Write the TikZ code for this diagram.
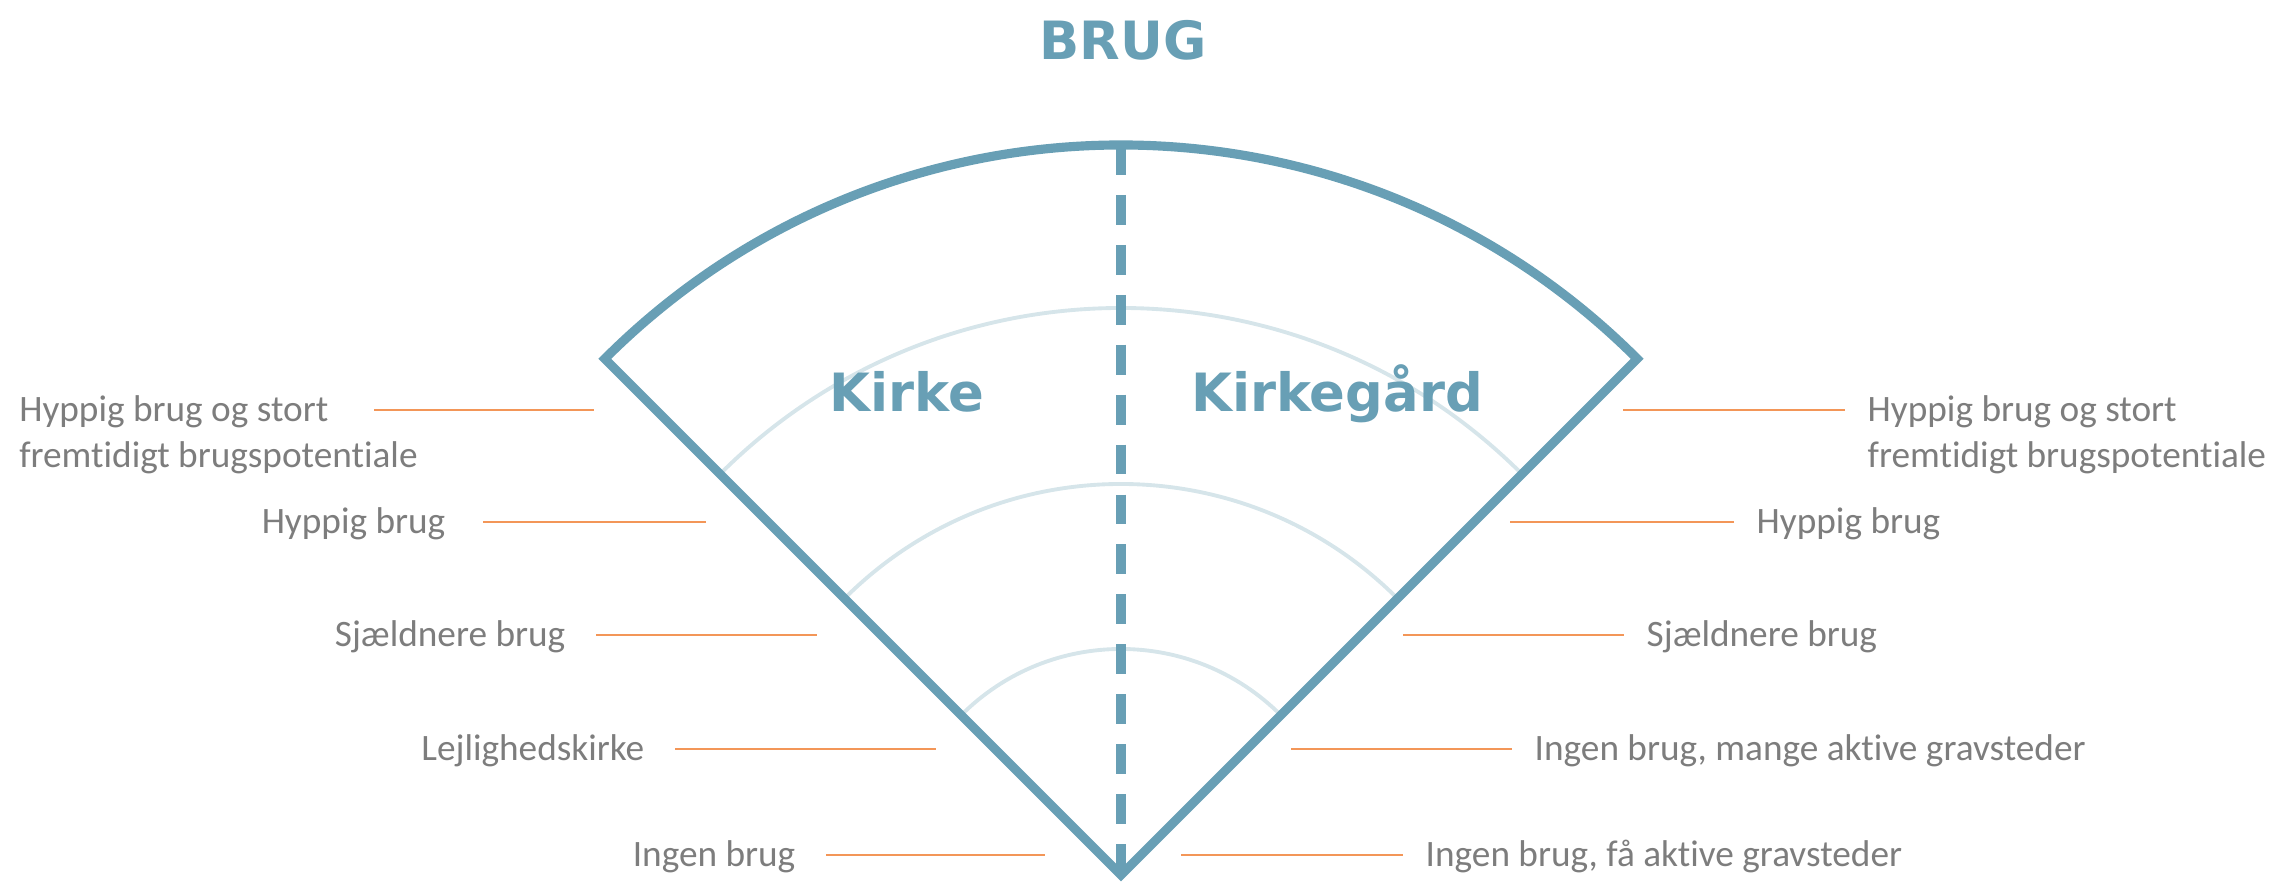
\documentclass[tikz,border=0pt]{standalone}
\usepackage{fontspec}
\setmainfont{Carlito}[Ligatures=NoCommon]
\newfontfamily\headfont{DejaVu Sans}
\usetikzlibrary{positioning}
\definecolor{Steel}{RGB}{104,159,181}
\definecolor{Mist}{RGB}{214,229,234}
\definecolor{Tangerine}{RGB}{243,150,88}
\definecolor{Slate}{RGB}{125,125,125}

\begin{document}
\begin{tikzpicture}[x=0.01cm,y=0.01cm,node distance=0.3cm,
 rim/.style={line width=2.6pt,Steel,line join=miter},
 ring/.style={line width=1.1pt,Mist},
 mid/.style={line width=2.8pt,Steel,dash pattern=on 8.5pt off 5.7pt},
 tick/.style={line width=0.7pt,Tangerine},
 lab/.style={inner sep=0pt,text=Slate,font=\fontsize{10.6}{12}\selectfont,text height=6.8pt,text depth=0pt},
 head/.style={inner sep=0pt,text=Steel,font=\headfont\bfseries\fontsize{15}{18}\selectfont,text height=10.9pt,text depth=0pt}]
\useasboundingbox (0,0) rectangle (2272,886);
\coordinate (c) at (1121,11);
\coordinate (top) at (1121,741);
% usage rings
\draw[ring] (c) ++(135:567) arc[start angle=135,end angle=45,radius=567];
\draw[ring] (c) ++(135:391) arc[start angle=135,end angle=45,radius=391];
\draw[ring] (c) ++(135:226) arc[start angle=135,end angle=45,radius=226];
% fan
\draw[rim] (c) -- ++(135:730) arc[start angle=135,end angle=45,radius=730] -- cycle;
\draw[mid] (top) -- (c);
\node[head] (brug) at (1123,846) {BRUG};
\node[head] (kirke) at (907,494) {Kirke};
\node[head] (kgard) at (1337,494) {Kirkegård};
% left side
\coordinate (l1a) at (374,476); \coordinate (l1b) at (594,476);
\coordinate (l2a) at (483,364); \coordinate (l2b) at (706,364);
\coordinate (l3a) at (596,251); \coordinate (l3b) at (817,251);
\coordinate (l4a) at (675,137); \coordinate (l4b) at (936,137);
\coordinate (l5a) at (826,31);  \coordinate (l5b) at (1045,31);
\node[lab,left=0.45cm of l1a] (l1t) {Hyppig brug og stort};
\node[lab,below=0.2cm of l1t.south west,anchor=north west] (l1u) {fremtidigt brugspotentiale};
\node[lab,left=0.37cm of l2a] (l2) {Hyppig brug};
\node[lab,left=of l3a] (l3) {Sjældnere brug};
\node[lab,left=of l4a] (l4) {Lejlighedskirke};
\node[lab,left=of l5a] (l5) {Ingen brug};
\draw[tick] (l1a)--(l1b); \draw[tick] (l2a)--(l2b); \draw[tick] (l3a)--(l3b);
\draw[tick] (l4a)--(l4b); \draw[tick] (l5a)--(l5b);
% right side
\coordinate (r1a) at (1623,476); \coordinate (r1b) at (1845,476);
\coordinate (r2a) at (1510,364); \coordinate (r2b) at (1734,364);
\coordinate (r3a) at (1403,251); \coordinate (r3b) at (1624,251);
\coordinate (r4a) at (1291,137); \coordinate (r4b) at (1512,137);
\coordinate (r5a) at (1181,31);  \coordinate (r5b) at (1403,31);
\node[lab,right=0.22cm of r1b] (r1t) {Hyppig brug og stort};
\node[lab,below=0.2cm of r1t.south west,anchor=north west] (r1u) {fremtidigt brugspotentiale};
\node[lab,right=0.22cm of r2b] (r2) {Hyppig brug};
\node[lab,right=0.22cm of r3b] (r3) {Sjældnere brug};
\node[lab,right=0.22cm of r4b] (r4) {Ingen brug, mange aktive gravsteder};
\node[lab,right=0.22cm of r5b] (r5) {Ingen brug, få aktive gravsteder};
\draw[tick] (r1a)--(r1b); \draw[tick] (r2a)--(r2b); \draw[tick] (r3a)--(r3b);
\draw[tick] (r4a)--(r4b); \draw[tick] (r5a)--(r5b);
\end{tikzpicture}
\end{document}
